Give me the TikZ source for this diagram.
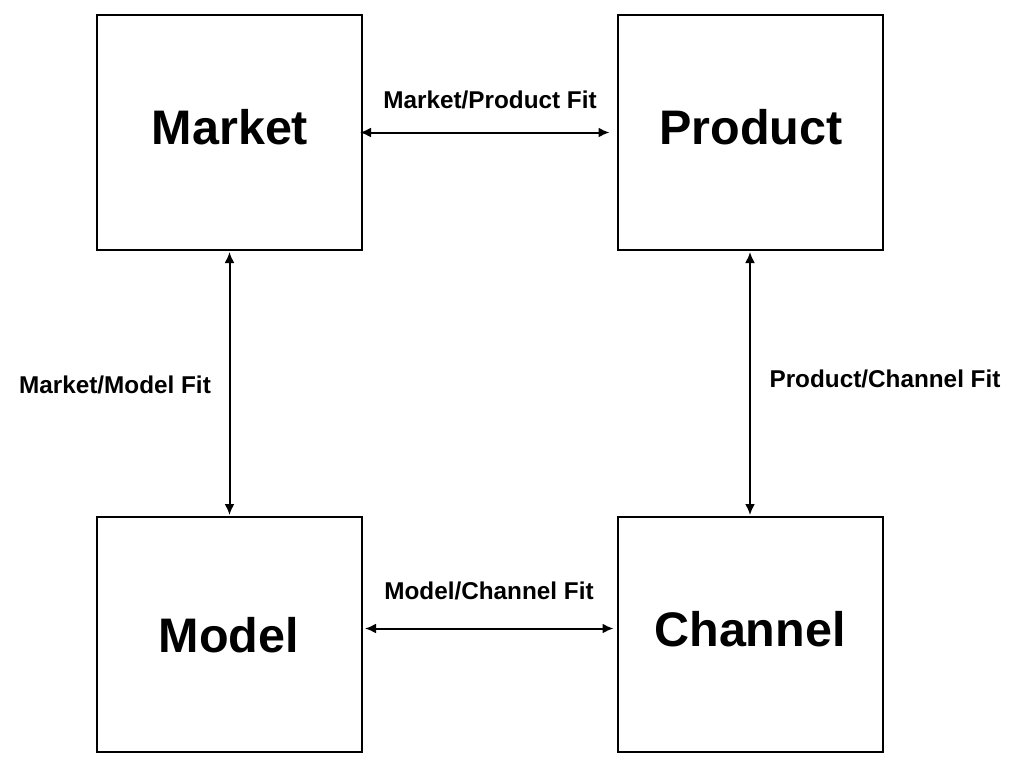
\documentclass[tikz,border=0pt]{standalone}
\usepackage{fontspec}
\setmainfont{Liberation Sans}
\usetikzlibrary{arrows.meta}
\begin{document}
\begin{tikzpicture}[x=1pt,y=-1pt,
  box/.style={draw,line width=2pt,minimum width=265pt,minimum height=235pt,inner sep=0pt},
  big/.style={font=\fontsize{48.5}{54}\selectfont\bfseries},
  lbl/.style={font=\fontsize{24.3}{28}\selectfont\bfseries},
  link/.style={line width=2pt,{Latex[length=11pt,width=10pt]}-{Latex[length=11pt,width=10pt]}}]
\useasboundingbox (0,0) rectangle (1024,768);
\node[box] (market) at (229.5,132.5) {};
\node[box] (product) at (750,132.5) {};
\node[box] (model) at (229.5,634.5) {};
\node[box] (channel) at (750,634.5) {};
\node[big] (tmarket) at (230,127) {Market};
\node[big] (tproduct) at (751,127) {Product};
\node[big] (tmodel) at (229,635) {Model};
\node[big] (tchannel) at (750,629) {Channel};
\draw[link] ([xshift=-3pt]market.east) -- ([xshift=-7pt]product.west);
\draw[link] ([yshift=-1pt]market.south) -- ([yshift=1pt]model.north);
\draw[link] ([yshift=-1pt]product.south) -- ([yshift=1pt]channel.north);
\draw[link] ([xshift=2pt,yshift=6pt]model.east) -- ([xshift=-3pt,yshift=6pt]channel.west);
\node[lbl] (l1) at (490,100) {Market/Product Fit};
\node[lbl] (l2) at (115,385) {Market/Model Fit};
\node[lbl] (l3) at (885,379) {Product/Channel Fit};
\node[lbl] (l4) at (489,591) {Model/Channel Fit};
\end{tikzpicture}
\end{document}
